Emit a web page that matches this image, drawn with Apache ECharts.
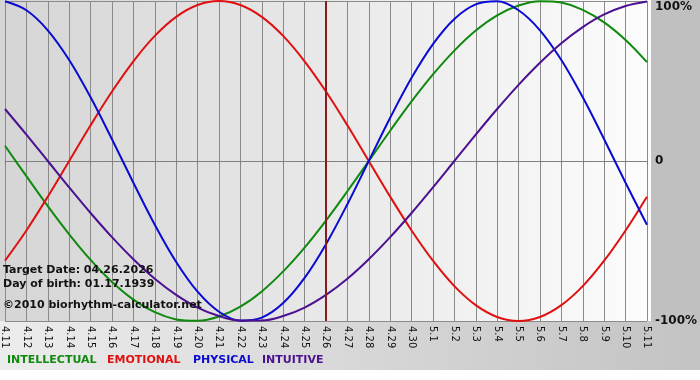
<!doctype html>
<html>
    <head>
        <meta charset="utf-8">
        <title>Biorhythm</title>
        <style>
            html, body { margin: 0; padding: 0; background: #fff; }
            #main { width: 700px; height: 380px; }
        </style>
    </head>
    <body>
        <div id="main"></div>
        <script src="https://cdn.jsdelivr.net/npm/echarts@6/dist/echarts.min.js"></script>
        <script>
            var days = ['4.11', '4.12', '4.13', '4.14', '4.15', '4.16', '4.17', '4.18', '4.19', '4.20',
                '4.21', '4.22', '4.23', '4.24', '4.25', '4.26', '4.27', '4.28', '4.29', '4.30',
                '5.1', '5.2', '5.3', '5.4', '5.5', '5.6', '5.7', '5.8', '5.9', '5.10', '5.11'];

            var intellectual = [9.5, -9.5, -28.2, -45.8, -61.8, -75.6, -86.6, -94.5, -99.0, -99.9,
                -97.2, -91.0, -81.5, -69.0, -54.1, -37.2, -18.9, 0, 18.9, 37.2,
                54.1, 69.0, 81.5, 91.0, 97.2, 99.9, 99.0, 94.5, 86.6, 75.6, 61.8];
            var emotional = [-62.3, -43.4, -22.3, 0, 22.3, 43.4, 62.3, 78.2, 90.1, 97.5,
                100, 97.5, 90.1, 78.2, 62.3, 43.4, 22.3, 0, -22.3, -43.4,
                -62.3, -78.2, -90.1, -97.5, -100, -97.5, -90.1, -78.2, -62.3, -43.4, -22.3];
            var physical = [99.8, 94.2, 81.7, 63.1, 39.8, 13.6, -13.6, -39.8, -63.1, -81.7,
                -94.2, -99.8, -97.9, -88.8, -73.1, -52.0, -27.0, 0, 27.0, 52.0,
                73.1, 88.8, 97.9, 99.8, 94.2, 81.7, 63.1, 39.8, 13.6, -13.6, -39.8];
            var intuitive = [32.5, 16.5, 0, -16.5, -32.5, -47.6, -61.4, -73.6, -83.7, -91.6,
                -96.9, -99.7, -99.7, -96.9, -91.6, -83.7, -73.6, -61.4, -47.6, -32.5,
                -16.5, 0, 16.5, 32.5, 47.6, 61.4, 73.6, 83.7, 91.6, 96.9, 99.7];

            var targetDay = '4.26';
            var infoLines = ['Target Date: 04.26.2026', 'Day of birth: 01.17.1939', '\u00a92010 biorhythm-calculator.net'];

            var colors = {
                intellectual: '#0f8a0f',
                emotional: '#e01010',
                physical: '#0a0ad2',
                intuitive: '#4b1190'
            };

            var chart = echarts.init(document.getElementById('main'));

            function curve(name, data, color, extra) {
                var s = {
                    name: name,
                    type: 'line',
                    data: data,
                    smooth: 0.35,
                    showSymbol: false,
                    animation: false,
                    lineStyle: { color: color, width: 2 },
                    itemStyle: { color: color }
                };
                if (extra) {
                    s.markLine = extra;
                }
                return s;
            }

            var bold = 'bold 11px "DejaVu Sans"';

            chart.setOption({
                animation: false,
                backgroundColor: '#ffffff',
                textStyle: { fontFamily: 'DejaVu Sans' },
                graphic: [
                    // backgrounds
                    {
                        type: 'rect', z: -10, silent: true,
                        shape: { x: 0, y: 321, width: 700, height: 49 },
                        style: {
                            fill: new echarts.graphic.LinearGradient(0, 0, 1, 0, [
                                { offset: 0, color: '#ececec' },
                                { offset: 1, color: '#c3c3c3' }
                            ])
                        }
                    },
                    {
                        type: 'rect', z: -10, silent: true,
                        shape: { x: 651, y: 0, width: 49, height: 322 },
                        style: { fill: '#c0c0c0' }
                    },
                    {
                        type: 'rect', z: -10, silent: true,
                        shape: { x: 0, y: 0, width: 651, height: 321 },
                        style: {
                            fill: new echarts.graphic.LinearGradient(0, 0, 1, 0, [
                                { offset: 0, color: '#d5d5d5' },
                                { offset: 1, color: '#fcfcfc' }
                            ])
                        }
                    },
                    // info texts
                    { type: 'text', left: 3, top: 265, z: 100, style: { text: infoLines[0], font: bold, fill: '#111' } },
                    { type: 'text', left: 3, top: 279, z: 100, style: { text: infoLines[1], font: bold, fill: '#111' } },
                    { type: 'text', left: 3, top: 300, z: 100, style: { text: infoLines[2], font: bold, fill: '#111' } },
                    // legend
                    { type: 'text', left: 7, top: 355, style: { text: 'INTELLECTUAL', font: bold, fill: colors.intellectual } },
                    { type: 'text', left: 107, top: 355, style: { text: 'EMOTIONAL', font: bold, fill: colors.emotional } },
                    { type: 'text', left: 193, top: 355, style: { text: 'PHYSICAL', font: bold, fill: colors.physical } },
                    { type: 'text', left: 262, top: 355, style: { text: 'INTUITIVE', font: bold, fill: colors.intuitive } }
                ],
                grid: { left: 0, right: 49, top: 1, bottom: 59 },
                xAxis: {
                    type: 'category',
                    data: days,
                    boundaryGap: false,
                    axisLine: { show: true, lineStyle: { color: '#808080', width: 1 } },
                    axisTick: { show: true, length: 4, lineStyle: { color: '#808080' } },
                    axisLabel: {
                        interval: 0,
                        rotate: -90,
                        margin: 5,
                        fontSize: 10,
                        color: '#111',
                        fontFamily: 'DejaVu Sans'
                    },
                    splitLine: { show: true, lineStyle: { color: '#8a8a8a', width: 1 } }
                },
                yAxis: {
                    type: 'value',
                    position: 'right',
                    min: -100,
                    max: 100,
                    interval: 100,
                    axisLine: { show: false },
                    axisTick: { show: false },
                    splitLine: { show: true, lineStyle: { color: '#8a8a8a', width: 1 } },
                    axisLabel: {
                        margin: 8,
                        fontSize: 12,
                        fontWeight: 'bold',
                        color: '#111',
                        fontFamily: 'DejaVu Sans',
                        formatter: function (v) {
                            if (v === 100) return '{t|100%}';
                            return v === 0 ? '0' : v + '%';
                        },
                        rich: {
                            t: { fontSize: 12, fontWeight: 'bold', color: '#111', padding: [12, 0, 0, 0] }
                        }
                    }
                },
                series: [
                    curve('INTELLECTUAL', intellectual, colors.intellectual, {
                        symbol: 'none',
                        silent: true,
                        label: { show: false },
                        lineStyle: { color: '#8b1a1a', width: 2, type: 'solid' },
                        data: [{ xAxis: targetDay }]
                    }),
                    curve('EMOTIONAL', emotional, colors.emotional),
                    curve('PHYSICAL', physical, colors.physical),
                    curve('INTUITIVE', intuitive, colors.intuitive)
                ]
            });

            window.addEventListener('resize', function () {
                chart.resize();
            });
        </script>
    </body>
</html>
